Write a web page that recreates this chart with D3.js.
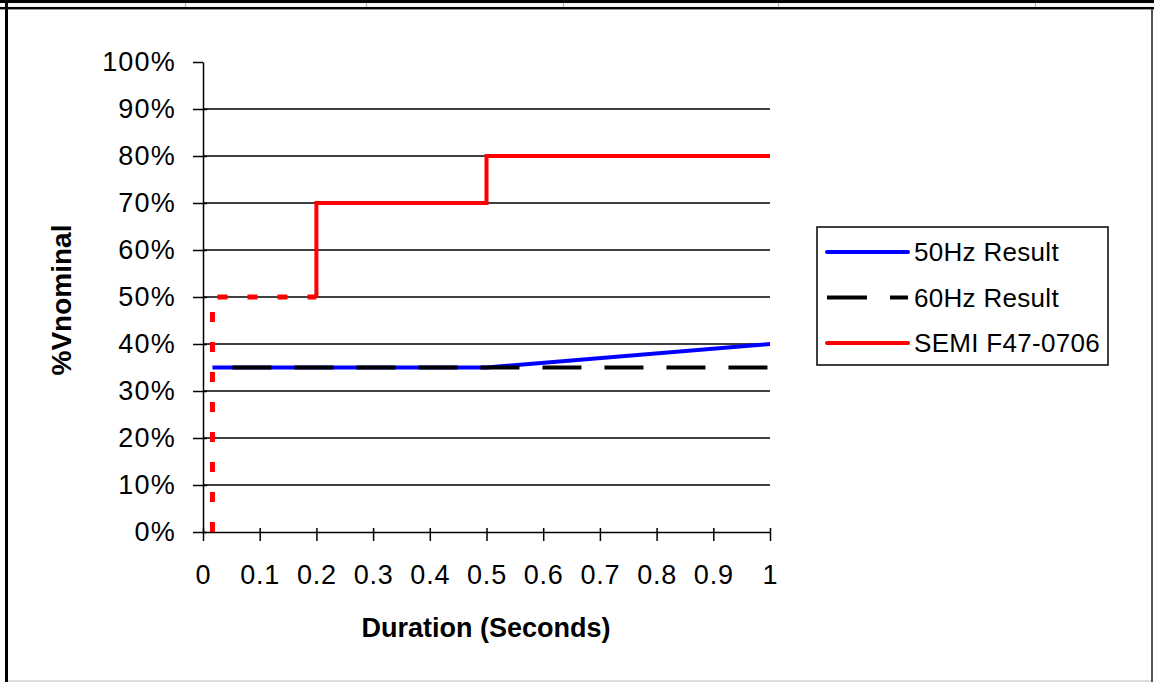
<!DOCTYPE html>
<html><head><meta charset="utf-8">
<script src="https://cdn.jsdelivr.net/npm/d3@7"></script>
<style>body{margin:0;background:#fff;}svg{display:block;}text{font-family:"Liberation Sans",Arial,sans-serif;}</style>
</head><body>
<svg id="c" width="1154" height="682"></svg>
<script>
// ---- data ----
const xTicks = [0, 0.1, 0.2, 0.3, 0.4, 0.5, 0.6, 0.7, 0.8, 0.9, 1];
const xTickLabels = ["0", "0.1", "0.2", "0.3", "0.4", "0.5", "0.6", "0.7", "0.8", "0.9", "1"];
const yTicks = [0, 10, 20, 30, 40, 50, 60, 70, 80, 90, 100];
const seriesNames = ["50Hz Result", "60Hz Result", "SEMI F47-0706"];
const hz50X = [1/60, 0.5, 1.0];
const hz50Y = [35, 35, 40];
const hz60X = [1/60, 1.0];
const hz60Y = [35, 35];
const semiDashedX = [1/60, 1/60, 0.2];
const semiDashedY = [0, 50, 50];
const semiSolidX = [0.2, 0.2, 0.5, 0.5, 1.0];
const semiSolidY = [50, 70, 70, 80, 80];
const xTitle = "Duration (Seconds)";
const yTitle = "%Vnominal";

const svg = d3.select("#c");
// ---- frame ----
svg.append("rect").attr("x",0).attr("y",0).attr("width",1154).attr("height",3).attr("fill","#000");
svg.append("rect").attr("x",0).attr("y",3).attr("width",1154).attr("height",4).attr("fill","#f4f4f4");
[185,366,563,778,1035].forEach(x=>svg.append("rect").attr("x",x).attr("y",3).attr("width",1).attr("height",4).attr("fill","#b0b0b0"));
svg.append("rect").attr("x",0).attr("y",7).attr("width",1154).attr("height",2).attr("fill","#000");
svg.append("rect").attr("x",0).attr("y",9).attr("width",1154).attr("height",1).attr("fill","#999");
svg.append("rect").attr("x",5).attr("y",0).attr("width",3).attr("height",682).attr("fill","#000");
svg.append("rect").attr("x",1151).attr("y",9).attr("width",2).attr("height",673).attr("fill","#555");
svg.append("rect").attr("x",8).attr("y",680).attr("width",1143).attr("height",2).attr("fill","#ddd");

// ---- scales ----
const x = d3.scaleLinear().domain([0,1]).range([203,770]);
const y = d3.scaleLinear().domain([0,100]).range([532,62]);

// gridlines
svg.append("g").selectAll("line").data(yTicks.filter(v=>v>0 && v<100)).join("line")
  .attr("x1",x(0)).attr("x2",x(1)).attr("y1",d=>y(d)).attr("y2",d=>y(d))
  .attr("stroke","#000").attr("stroke-width",1.5);

// y axis
const yAxis = d3.axisLeft(y).tickValues(yTicks).tickFormat(d=>d+"%").tickSize(10).tickSizeOuter(0);
const gy = svg.append("g").attr("transform",`translate(${x(0)},0)`).call(yAxis);
gy.select(".domain").attr("stroke","#000").attr("stroke-width",1.5);
gy.selectAll(".tick line").attr("stroke","#000").attr("stroke-width",1.5).attr("x2",-10).attr("x1",d=>d===100?0:4);
gy.selectAll(".tick text").attr("x",-27).attr("font-size",27).attr("letter-spacing",1.2).attr("fill","#000")
  .attr("font-family","'Liberation Sans',Arial,sans-serif");

// x axis
const xAxis = d3.axisBottom(x).tickValues(xTicks).tickFormat((d,i)=>xTickLabels[i]).tickSize(9).tickSizeOuter(0);
const gx = svg.append("g").attr("transform",`translate(0,${y(0)})`).call(xAxis);
gx.select(".domain").attr("stroke","#000").attr("stroke-width",1.5);
gx.selectAll(".tick line").attr("stroke","#000").attr("stroke-width",1.5).attr("y1",-4);
gx.selectAll(".tick text").attr("y",43).attr("dy","0.32em").attr("font-size",27).attr("letter-spacing",0.8).attr("fill","#000")
  .attr("font-family","'Liberation Sans',Arial,sans-serif");

// titles
svg.append("text").attr("x",486).attr("y",637).attr("text-anchor","middle")
  .attr("font-size",27).attr("font-weight","bold").text(xTitle);
svg.append("text").attr("transform","translate(71,300) rotate(-90)").attr("text-anchor","middle")
  .attr("font-size",28).attr("font-weight","bold").text(yTitle);

// ---- series ----
const line = d3.line().x(d=>x(d[0])).y(d=>y(d[1]));
const zip = (a,b)=>a.map((v,i)=>[v,b[i]]);
svg.append("path").datum(zip(hz50X,hz50Y)).attr("d",line).attr("fill","none")
  .attr("stroke","#0000ff").attr("stroke-width",4);
svg.append("path").datum(zip(hz60X,hz60Y)).attr("d",line).attr("fill","none")
  .attr("stroke","#000").attr("stroke-width",4).attr("stroke-dasharray","39 23").attr("stroke-dashoffset",42);
svg.append("path").datum(zip(semiDashedX,semiDashedY)).attr("d",line).attr("fill","none")
  .attr("stroke","#ff0000").attr("stroke-width",5).attr("stroke-dasharray","10 20");
svg.append("path").datum(zip(semiSolidX,semiSolidY)).attr("d",line).attr("fill","none")
  .attr("stroke","#ff0000").attr("stroke-width",4).attr("stroke-linejoin","miter");

// ---- legend ----
const lg = svg.append("g");
lg.append("rect").attr("x",817).attr("y",227).attr("width",291).attr("height",138)
  .attr("fill","#fff").attr("stroke","#000").attr("stroke-width",1.5);
const legendItems = [
  {name:seriesNames[0], color:"#0000ff", dash:null},
  {name:seriesNames[1], color:"#000", dash:"40 23"},
  {name:seriesNames[2], color:"#ff0000", dash:null}
];
const ly = d3.scalePoint().domain(seriesNames).range([252,343]);
legendItems.forEach(it=>{
  const yy = ly(it.name);
  const l = lg.append("line").attr("x1",827).attr("x2",908).attr("y1",yy).attr("y2",yy)
    .attr("stroke",it.color).attr("stroke-width",4);
  if(it.dash) l.attr("stroke-dasharray",it.dash); else l.attr("stroke-linecap","round");
  lg.append("text").attr("x",914).attr("y",yy).attr("dy","0.35em").attr("font-size",26).attr("letter-spacing",0.3).text(it.name);
});
</script>
</body></html>
